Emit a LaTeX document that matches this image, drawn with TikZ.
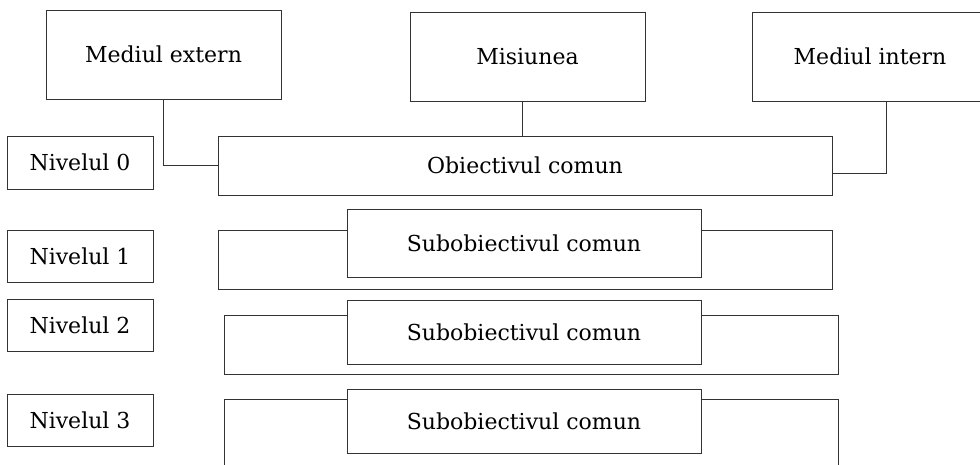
\documentclass[tikz,border=0pt]{standalone}
\usepackage{fontspec}
\setmainfont{DejaVu Serif}
\usepackage{tikz}
\usetikzlibrary{positioning}
\definecolor{linegray}{rgb}{0.2,0.2,0.2}
\newcommand{\levelnode}[3]{
\node (#1) [#2]{#3};}
\tikzstyle{box}=[rectangle, draw=linegray, line width=0.9pt, fill=white,
        text centered, anchor=center, inner sep=0pt, font=\fontsize{22}{26}\selectfont]
\tikzstyle{topbox}=[box, minimum width=235pt, minimum height=89pt]
\tikzstyle{levelbox}=[box, minimum width=146pt, minimum height=52pt]
\tikzstyle{widebox}=[box, minimum width=614pt, minimum height=59pt]
\tikzstyle{subbox}=[box, minimum width=354pt, minimum height=64pt]
\tikzstyle{line}=[draw=linegray, line width=0.9pt]
\begin{document}
\begin{tikzpicture}[x=1pt, y=-1pt]
\useasboundingbox (0,0) rectangle (980,464);

% top row
\levelnode{extern}{topbox, at={(163.5,54.5)}}{Mediul extern}
\levelnode{misiunea}{topbox, at={(527.5,56.5)}}{Misiunea}
\levelnode{intern}{topbox, minimum width=236pt, at={(870,56.5)}}{Mediul intern}

% level 0
\levelnode{niv0}{levelbox, minimum height=53pt, at={(80,162.5)}}{Nivelul 0}
\levelnode{obiectiv}{widebox, at={(525,165.5)}}{Obiectivul comun}

% level 1
\levelnode{niv1}{levelbox, at={(80,256)}}{Nivelul 1}
\levelnode{mare1}{widebox, at={(525,259.5)}}{}
\levelnode{sub1}{subbox, minimum height=68pt, at={(524,243)}}{Subobiectivul comun}

% level 2
\levelnode{niv2}{levelbox, at={(80,325)}}{Nivelul 2}
\levelnode{mare2}{widebox, at={(531,344.5)}}{}
\levelnode{sub2}{subbox, at={(524,332)}}{Subobiectivul comun}

% level 3
\levelnode{niv3}{levelbox, at={(80,420)}}{Nivelul 3}
\levelnode{mare3}{widebox, minimum height=70pt, at={(531,434)}}{}
\levelnode{sub3}{subbox, at={(524,421)}}{Subobiectivul comun}

% draw lines
\draw[line] (extern.south) |- (obiectiv.west);
\draw[line] ([xshift=-5pt]misiunea.south) -- ([xshift=-5pt]misiunea.south |- obiectiv.north);
\draw[line] ([xshift=16pt]intern.south) |- ([yshift=-8pt]obiectiv.east);

\end{tikzpicture}
\end{document}
